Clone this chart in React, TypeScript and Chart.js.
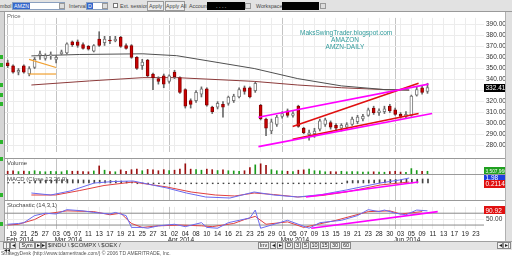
import React, { useEffect, useRef } from "react";
import { Chart, registerables } from "chart.js";
Chart.register(...registerables);

// ---------- DATA ----------
const dayLabels = [
  "18","19","20","21","24","25","26","27","28",
  "03","04","05","06","07","10","11","12","13","14","17","18","19","20","21","24","25","26","27","28","31",
  "01","02","03","04","07","08","09","10","11","14","15","16","17","21","22","23","24","25","28","29","30",
  "01","02","05","06","07","08","09","12","13","14","15","16","19","20","21","22","23","27","28","29","30",
  "02","03","04","05","06","09","10","11","12","13","16","17","18","19","20","23","24",
];
const monthNames = ["Feb 2014", "Mar 2014", "Apr 2014", "May 2014", "Jun 2014"];
const monthStarts = [0, 9, 30, 51, 72];

const openP = [354.9,352.3,346.5,352.3,344.8,350.7,362.4,359.1,361.6,358.2,363.2,364.1,374.1,374.1,371.6,369.9,365.7,376.6,373.3,375.8,375.0,378.3,370.8,370.8,359.9,352.3,357.4,344.8,340.6,343.1,338.1,346.5,341.5,330.6,320.5,320.5,326.4,331.4,314.7,314.7,317.2,318.0,320.5,323.9,332.3,332.3,329.7,316.4,303.8,292.9,298.8,306.3,311.3,307.2,315.5,295.4,289.6,290.4,294.6,298.8,300.5,298.0,295.4,296.3,298.8,301.3,303.8,307.2,313.8,309.7,310.5,315.5,312.2,308.0,306.3,307.2,325.6,332.3,328.9];
const highP = [357.4,353.2,349.8,353.2,351.5,359.9,365.7,363.2,364.9,361.6,366.6,373.3,374.9,375.8,373.3,370.8,371.6,383.3,379.1,379.1,379.1,379.1,372.4,371.6,360.7,358.2,358.2,345.6,342.3,344.8,344.0,348.2,342.3,331.4,322.2,329.7,333.1,332.3,315.5,319.7,319.7,324.7,326.4,332.3,333.9,333.1,337.3,317.2,304.6,303.8,307.2,310.5,313.0,310.5,316.4,296.3,293.8,295.4,303.8,304.6,302.1,299.6,299.6,300.5,305.5,307.2,308.0,313.8,315.5,313.0,315.5,317.2,313.8,309.7,310.5,325.6,333.1,333.9,336.4];
const lowP = [350.7,345.6,344.0,345.6,343.1,349.8,358.2,357.4,358.2,354.9,362.4,363.2,369.9,369.1,367.4,366.6,364.9,369.9,370.8,372.4,374.1,369.1,367.4,359.1,349.0,349.0,342.3,330.6,335.6,332.3,336.4,340.6,327.2,313.8,313.8,318.9,323.9,315.5,308.8,313.0,305.5,316.4,318.9,323.1,326.4,323.1,328.1,303.0,288.7,290.4,297.1,304.6,305.5,305.5,296.3,290.4,284.5,287.1,292.9,297.1,294.6,293.8,292.9,294.6,298.0,299.6,302.1,306.3,308.0,307.2,308.8,309.7,307.2,304.6,304.6,306.3,324.7,326.4,327.2];
const closeP = [352.3,346.5,348.2,346.5,349.8,358.2,363.2,361.6,362.4,359.9,364.9,372.4,371.6,370.8,368.2,367.4,370.8,370.8,376.6,374.9,376.6,369.9,368.2,359.9,349.8,355.7,343.1,341.5,338.1,335.6,343.1,342.3,328.1,315.5,317.2,328.1,331.4,316.4,310.5,318.0,314.7,323.9,324.7,330.6,328.9,323.9,336.4,303.8,295.4,301.3,305.5,308.8,307.2,308.8,297.1,291.3,291.3,292.9,302.1,303.0,296.3,295.4,298.0,298.8,303.8,305.5,306.3,312.2,309.7,311.3,313.0,311.3,308.0,306.3,308.0,324.7,330.6,328.1,332.41];

// volume in millions of shares
const volumeM = [3.5,3.8,3.2,3.6,3.3,4.0,3.1,3.0,3.4,3.2,3.0,4.2,3.5,3.6,3.2,3.0,3.8,8.5,4.5,3.2,3.0,4.8,3.5,5.0,5.5,4.0,5.2,4.8,4.0,5.0,4.2,4.5,5.5,10.5,5.5,5.0,4.5,5.5,5.0,4.2,4.8,4.0,3.8,3.5,4.0,7.0,9.5,10.5,9.0,5.0,4.0,3.8,3.5,3.2,4.5,4.8,5.5,4.0,3.8,3.0,3.2,3.0,3.5,3.0,3.2,3.1,2.8,2.9,3.0,2.8,2.6,3.2,3.5,2.8,2.6,6.0,4.2,3.5,3.5];

// moving averages [index, price]
const smaGrey = [[0,361.3],[10,362.6],[23,363.2],[30,361.5],[46,349.8],[55,340.6],[64,334.0],[73,330.6],[78,330.2]];
const smaBrown = [[0,334.8],[12,338.5],[23,341.5],[30,341.5],[46,338.1],[55,334.8],[64,332.3],[73,330.6],[78,330.2]];

// trendlines [index, price]
const orangeUpper = [[-0.48,358.2],[5.09,350.7]];
const orangeLower = [[-0.48,344.8],[5.09,344.8]];
const magentaUpper = [[46.88,305.5],[81.98,335.6]];
const magentaLower = [[46.88,278.7],[82.73,308.8]];
const redUpper = [[53.94,297.1],[79.94,336.4]];
const redLower = [[53.94,285.4],[79.94,308.8]];

const priceTicks = [280,290,300,310,320,330,340,350,360,370,380,390];

// MACD [index, value]
const macdLine = [[0,-4.0],[4,-4.8],[8,-3.2],[13,0.0],[17,0.6],[21,0.8],[24,-0.4],[28,-2.0],[32,-4.0],[36,-5.6],[41,-6.0],[46,-3.6],[50,-4.8],[55,-5.6],[60,-4.6],[65,-2.8],[72,0.0],[76,1.2],[78,2.0]];
const signalLine = [[0,-4.8],[5,-4.8],[10,-3.0],[15,-1.0],[21,0.4],[28,-1.6],[33,-3.6],[38,-4.8],[42,-5.2],[46,-4.0],[50,-4.6],[55,-5.6],[60,-5.0],[65,-3.6],[72,-0.8],[78,0.4]];
const macdHist = [0.2,0.2,0.3,0.3,0.4,0.8,1.0,1.2,1.2,1.3,1.4,1.4,1.3,1.3,1.2,1.2,1.1,1.1,1.0,1.0,0.9,0.8,0.6,0.4,-0.3,-0.3,-0.3,-0.3,-0.3,-0.3,-0.3,-0.3,-0.3,-0.3,-0.3,-0.3,-0.3,-0.3,-0.3,-0.3,-0.3,-0.3,-0.3,-0.3,-0.3,-0.3,-0.3,-0.3,-0.3,-0.3,-0.3,-0.3,-0.3,-0.3,-0.3,-0.3,-0.3,-0.3,-0.3,-0.3,-0.3,-0.3,-0.3,0.8,1.0,1.0,1.1,1.2,1.2,1.3,1.3,1.4,1.4,1.4,1.5,1.5,1.5,1.6,1.6];
const macdTrend = [[56.7,-5.6],[79.9,0.4]];

// Stochastic [index, value]
const stochK = [[0,24],[2,28],[3,32],[5,68],[7,80],[9,76],[11,98],[14,92],[16,84],[19,76],[20,84],[22,68],[23,8],[25,8],[26,4],[28,16],[31,24],[33,12],[36,32],[37,8],[39,4],[41,32],[43,44],[45,56],[46,96],[47,4],[49,20],[52,44],[56,4],[58,32],[62,44],[65,68],[67,98],[69,88],[70,96],[72,80],[74,72],[76,96],[78,92]];
const stochD = [[0,20],[2,24],[5,48],[7,76],[11,92],[16,88],[19,72],[21,80],[23,28],[25,8],[28,16],[32,20],[36,16],[38,12],[42,28],[44,48],[46,64],[48,24],[52,36],[55,8],[61,44],[67,88],[71,92],[73,76],[77,88]];
const stochTrend = [[56.4,4],[79.9,88]];

// ---------- HELPERS ----------
const FONT = "'Liberation Sans', Arial, sans-serif";
const N = dayLabels.length;

function lineDs(pts: number[][], color: string, width = 1) {
  return {
    type: "line" as const,
    xAxisID: "xl",
    data: pts.map(([x, y]) => ({ x, y })),
    borderColor: color,
    borderWidth: width,
    pointRadius: 0,
    fill: false,
    tension: 0,
    spanGaps: true,
    order: 0,
  };
}

function xCat(showTicks: boolean) {
  return {
    type: "category" as const,
    labels: dayLabels,
    offset: true,
    display: true,
    border: { display: false },
    grid: {
      offset: false,
      drawTicks: false,
      color: (c: any) =>
        monthStarts.includes(c.index) ? "#c4c4c4" : c.index % 2 === 1 ? "#ececec" : "rgba(0,0,0,0)",
    },
    ticks: showTicks
      ? {
          autoSkip: false,
          maxRotation: 0,
          padding: 1,
          color: "#222",
          font: { size: 6.5, family: FONT },
          callback: (_v: any, i: number) => (i % 2 === 1 ? dayLabels[i] : ""),
        }
      : { display: false, autoSkip: false },
    afterFit: (s: any) => {
      s.height = showTicks ? 13 : 0;
    },
  };
}
const xLin = { type: "linear" as const, min: -0.5, max: N - 0.5, display: false };

function yRight(min: number, max: number, ticks: number[], gridColor = "#ececec") {
  return {
    position: "right" as const,
    min,
    max,
    border: { display: false },
    afterFit: (s: any) => {
      s.width = 21;
    },
    afterBuildTicks: (s: any) => {
      s.ticks = ticks.map((v) => ({ value: v }));
    },
    grid: { drawTicks: false, color: gridColor },
    ticks: {
      padding: 2,
      color: "#333",
      font: { size: 6.5, family: FONT },
      callback: (v: any) => Number(v).toFixed(2),
    },
  };
}

type Box = { value: number; text: string; bg: string; fg: string; size?: number };
const boxPlugin = {
  id: "boxes",
  afterDraw(chart: any, _a: any, opts: any) {
    const boxes: Box[] = opts.items || [];
    const { ctx, chartArea } = chart;
    const ys = chart.scales.y;
    ctx.save();
    ctx.textBaseline = "middle";
    boxes.forEach((b) => {
      ctx.font = `${b.size || 6.5}px ${FONT}`;
      const y = ys.getPixelForValue(b.value);
      ctx.fillStyle = b.bg;
      ctx.fillRect(chartArea.right, Math.round(y) - 4, 21, 8);
      ctx.fillStyle = b.fg;
      ctx.fillText(b.text, chartArea.right + 1.5, y + 0.5);
    });
    ctx.restore();
  },
};

const monthPlugin = {
  id: "months",
  afterDraw(chart: any) {
    const { ctx } = chart;
    const xs = chart.scales.x;
    ctx.save();
    ctx.font = `6.5px ${FONT}`;
    ctx.fillStyle = "#222";
    ctx.textBaseline = "alphabetic";
    monthNames.forEach((m, k) => {
      ctx.fillText(m, xs.getPixelForValue(monthStarts[k]) - 1.5, xs.bottom - 0.5);
    });
    ctx.restore();
  },
};

const baseOpts = {
  responsive: false,
  maintainAspectRatio: false,
  animation: false as const,
  layout: { padding: { left: 5, right: 0, top: 0, bottom: 0 } },
};
const noLegend = { legend: { display: false }, tooltip: { enabled: false } };

export default function App() {
  const priceRef = useRef<HTMLCanvasElement>(null);
  const volRef = useRef<HTMLCanvasElement>(null);
  const macdRef = useRef<HTMLCanvasElement>(null);
  const stochRef = useRef<HTMLCanvasElement>(null);

  useEffect(() => {
    const up = closeP.map((c, i) => c >= openP[i]);
    const charts: Chart[] = [];

    charts.push(
      new Chart(priceRef.current!, {
        type: "bar",
        data: {
          labels: dayLabels,
          datasets: [
            lineDs(orangeUpper, "#f0a030", 1.2),
            lineDs(orangeLower, "#f0a030", 1.2),
            lineDs(magentaUpper, "#ff00ff", 1.6),
            lineDs(magentaLower, "#ff00ff", 1.6),
            lineDs(redUpper, "#e01010", 1.6),
            lineDs(redLower, "#e01010", 1.6),
            {
              type: "bar",
              data: openP.map((o, i) => [Math.min(o, closeP[i]), Math.max(o, closeP[i])]),
              backgroundColor: up.map((u) => (u ? "#ffffff" : "#cc0000")),
              borderColor: up.map((u) => (u ? "#7a7a7a" : "#8a0000")),
              borderWidth: 1,
              borderSkipped: false,
              barThickness: 3,
              grouped: false,
              order: 1,
            } as any,
            {
              type: "bar",
              data: lowP.map((l, i) => [l, highP[i]]),
              backgroundColor: "#6a6a6a",
              barThickness: 1,
              grouped: false,
              order: 2,
            } as any,
            { ...lineDs(smaGrey, "#505050", 1), order: 3 },
            { ...lineDs(smaBrown, "#8c3a3a", 1), order: 3 },
          ] as any,
        },
        options: {
          ...baseOpts,
          plugins: {
            ...noLegend,
            boxes: { items: [{ value: 332.41, text: "332.41", bg: "#000000", fg: "#ffffff" }] },
          } as any,
          scales: { x: xCat(false), xl: xLin, y: yRight(273.7, 395.9, priceTicks) } as any,
        },
        plugins: [boxPlugin],
      })
    );

    charts.push(
      new Chart(volRef.current!, {
        type: "bar",
        data: {
          labels: dayLabels,
          datasets: [
            {
              data: volumeM,
              backgroundColor: up.map((u) => (u ? "#1a9a1a" : "#9a1010")),
              barThickness: 1,
            },
          ],
        },
        options: {
          ...baseOpts,
          plugins: {
            ...noLegend,
            boxes: { items: [{ value: 3.5, text: "3,507,966", bg: "#1fa01f", fg: "#ffffff", size: 4.8 }] },
          } as any,
          scales: { x: xCat(false), y: yRight(0, 15, []) } as any,
        },
        plugins: [boxPlugin],
      })
    );

    charts.push(
      new Chart(macdRef.current!, {
        type: "bar",
        data: {
          labels: dayLabels,
          datasets: [
            lineDs(macdTrend, "#ff00ff", 1.6),
            lineDs(macdLine, "#6a6af0", 1),
            lineDs(signalLine, "#e04040", 1),
            { type: "bar", data: macdHist, backgroundColor: "#444", barThickness: 1, order: 5 } as any,
          ] as any,
        },
        options: {
          ...baseOpts,
          plugins: {
            ...noLegend,
            boxes: {
              items: [
                { value: 2.2, text: "1.98", bg: "#1f3fe0", fg: "#ffffff" },
                { value: -0.2, text: "0.2114", bg: "#e01010", fg: "#ffffff" },
              ],
            },
          } as any,
          scales: { x: xCat(false), xl: xLin, y: yRight(-7.2, 3.2, []) } as any,
        },
        plugins: [boxPlugin],
      })
    );

    charts.push(
      new Chart(stochRef.current!, {
        type: "line",
        data: {
          labels: dayLabels,
          datasets: [
            lineDs(stochTrend, "#ff00ff", 1.6),
            lineDs(stochK, "#6a6af0", 1),
            lineDs(stochD, "#e04040", 1),
            lineDs([[-0.5, 80], [N - 0.5, 80]], "#8a8a8a", 1),
            lineDs([[-0.5, 20], [N - 0.5, 20]], "#8a8a8a", 1),
          ] as any,
        },
        options: {
          ...baseOpts,
          plugins: {
            ...noLegend,
            boxes: { items: [{ value: 94, text: "90.92", bg: "#e01010", fg: "#ffffff" }] },
          } as any,
          scales: { x: xCat(true), xl: xLin, y: yRight(0, 112, [50]) } as any,
        },
        plugins: [boxPlugin, monthPlugin],
      })
    );

    return () => charts.forEach((c) => c.destroy());
  }, []);

  const t = (s: React.CSSProperties): React.CSSProperties => ({
    position: "absolute",
    fontFamily: FONT,
    fontSize: 6.5,
    lineHeight: "8px",
    color: "#333",
    whiteSpace: "nowrap",
    ...s,
  });
  const tb = (s: React.CSSProperties): React.CSSProperties => t({ fontSize: 5.3, top: 2, color: "#444", ...s });
  const box = (s: React.CSSProperties): React.CSSProperties => ({ position: "absolute", boxSizing: "border-box", ...s });

  return (
    <div style={{ position: "fixed", left: 0, top: 0, width: 512, height: 256, background: "#ffffff", overflow: "hidden" }}>
      {/* toolbar */}
      <div style={box({ left: 0, top: 0, width: 512, height: 12, background: "#e2e2e2", borderBottom: "1px solid #9a9a9a" })} />
      <div style={tb({ left: 0 })}>mbol</div>
      <div style={box({ left: 12, top: 2, width: 53, height: 8, background: "#fff", border: "1px solid #8aa0c0" })} />
      <div style={tb({ left: 13, top: 3, background: "#3366cc", color: "#fff", lineHeight: "6px", padding: "0 1px" })}>AMZN</div>
      <div style={box({ left: 59, top: 3, width: 6, height: 6, background: "#ddd", border: "1px solid #999" })} />
      <div style={tb({ left: 69 })}>Interval</div>
      <div style={box({ left: 86, top: 2, width: 22, height: 8, background: "#fff", border: "1px solid #8aa0c0" })} />
      <div style={tb({ left: 87, top: 3, background: "#3366cc", color: "#fff", lineHeight: "6px", padding: "0 1px" })}>D</div>
      <div style={box({ left: 102, top: 3, width: 6, height: 6, background: "#ddd", border: "1px solid #999" })} />
      <div style={box({ left: 113, top: 3, width: 5, height: 5, background: "#fff", border: "1px solid #777" })} />
      <div style={tb({ left: 120 })}>Ext. session</div>
      <div style={box({ left: 147, top: 1, width: 17, height: 10, background: "#ececec", border: "1px solid #999" })} />
      <div style={tb({ left: 149 })}>Apply</div>
      <div style={box({ left: 165, top: 1, width: 20, height: 10, background: "#ececec", border: "1px solid #999" })} />
      <div style={tb({ left: 166 })}>Apply All</div>
      <div style={tb({ left: 189 })}>Account</div>
      <div style={box({ left: 207, top: 2, width: 38, height: 8, background: "#000" })} />
      <div style={tb({ left: 216, top: 2, color: "#fff" })}>. .  .  .</div>
      <div style={box({ left: 245, top: 3, width: 6, height: 6, background: "#ddd", border: "1px solid #999" })} />
      <div style={tb({ left: 256 })}>Workspace</div>
      <div style={box({ left: 282, top: 2, width: 37, height: 8, background: "#000" })} />
      <div style={box({ left: 320, top: 3, width: 6, height: 6, background: "#ddd", border: "1px solid #999" })} />

      {/* left strip */}
      <div style={box({ left: 0, top: 12, width: 5, height: 229, background: "#d6d6d6", borderRight: "1px solid #a0a0a0" })} />
      {[55, 63, 83, 93, 102, 140, 157, 193, 222].map((y) => (
        <div key={y} style={box({ left: 0, top: y, width: 3, height: 4, background: "#2db52d" })} />
      ))}
      {/* right strip */}
      <div style={box({ left: 505, top: 12, width: 7, height: 229, background: "#e0e0e0", borderLeft: "1px solid #b0b0b0" })} />

      <canvas ref={priceRef} width={505} height={146} style={{ position: "absolute", left: 0, top: 12 }} />
      <canvas ref={volRef} width={505} height={16} style={{ position: "absolute", left: 0, top: 159 }} />
      <canvas ref={macdRef} width={505} height={26} style={{ position: "absolute", left: 0, top: 175 }} />
      <canvas ref={stochRef} width={505} height={41} style={{ position: "absolute", left: 0, top: 201 }} />

      {/* panel separators */}
      {[158, 174, 200].map((y) => (
        <div key={y} style={box({ left: 5, top: y, width: 500, height: 1, background: "#9a9a9a" })} />
      ))}

      {/* titles */}
      <div style={t({ left: 7, top: 12, color: "#666", fontSize: 6 })}>Price</div>
      <div style={t({ left: 7, top: 159, color: "#444", fontSize: 6 })}>Volume</div>
      <div style={t({ left: 7, top: 175, color: "#444", fontSize: 6 })}>MACD (Close,12,26,9)</div>
      <div style={t({ left: 7, top: 201, color: "#444", fontSize: 6 })}>Stochastic (14,3,1)</div>

      {/* watermark */}
      <div style={t({ left: 300, top: 29, width: 90, textAlign: "center", color: "#2f9a9a" })}>MaksSwingTrader.blogspot.com</div>
      <div style={t({ left: 300, top: 36, width: 90, textAlign: "center", color: "#2f9a9a" })}>AMAZON</div>
      <div style={t({ left: 300, top: 43, width: 90, textAlign: "center", color: "#2f9a9a" })}>AMZN-DAILY</div>

      {/* bottom tab bar */}
      <div style={box({ left: 0, top: 241, width: 512, height: 9, background: "#e4e4e4", borderTop: "1px solid #a0a0a0" })} />
      {[
        [3, 7, "|◂◂"], [10, 6, "◂"], [19, 16, "Sym"], [35, 6, "▸"], [41, 6, "▸|"],
        [258, 11, "Inv"], [270, 6, "◂"], [277, 6, "▸"], [285, 8, "D"], [294, 7, "3"], [302, 7, "5"],
        [310, 9, "10"], [320, 9, "15"], [330, 10, "30"], [341, 10, "60"], [497, 6, "◂"], [503, 8, "▸|"],
      ].map(([x, w, s]) => (
        <div key={String(x)} style={box({ left: x as number, top: 242, width: w as number, height: 7, border: "1px solid #888", background: "#f2f2f2", fontFamily: FONT, fontSize: 5.5, lineHeight: "5px", textAlign: "center", color: "#222" })}>{s}</div>
      ))}
      <div style={t({ left: 48, top: 241, fontSize: 6 })}>$INDU \ $COMPX \ $OEX /</div>
      <div style={t({ left: 1, top: 249, fontSize: 5, color: "#555" })}>StrategyDesk (http://www.tdameritrade.com/) © 2006 TD AMERITRADE, Inc.</div>
    </div>
  );
}
